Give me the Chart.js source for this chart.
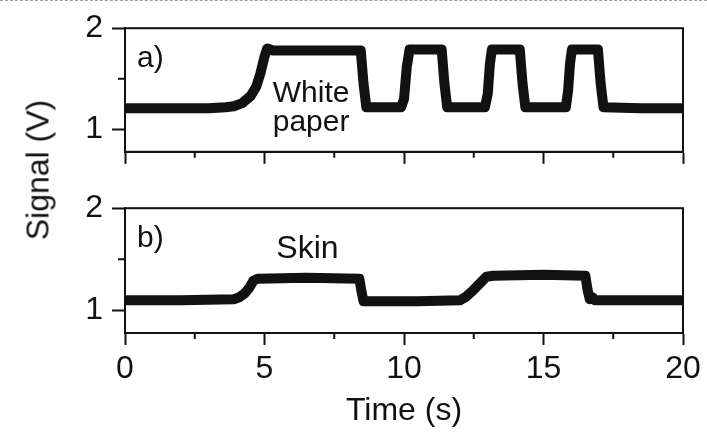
<!DOCTYPE html>
<html>
<head>
<meta charset="utf-8">
<script src="https://cdn.jsdelivr.net/npm/chart.js@4.4.1/dist/chart.umd.min.js"></script>
<style>
  html, body { margin: 0; padding: 0; background: #fff; }
  #wrap { position: relative; width: 707px; height: 433px; overflow: hidden; }
  #edge { position: absolute; left: 0; top: 0; width: 707px; border-top: 1px dashed #a0a0a0; }
  canvas { position: absolute; left: 0; }
  #ytitle {
    position: absolute; left: 38px; top: 170px;
    transform: translate(-50%, -50%) rotate(-90deg);
    font: 32px "Liberation Sans", Arial, sans-serif; color: #111; white-space: nowrap;
  }
</style>
</head>
<body>
<div id="wrap">
  <div id="edge"></div>
  <canvas id="chart-a" width="707" height="180" style="top:0px"></canvas>
  <canvas id="chart-b" width="707" height="253" style="top:180px"></canvas>
  <div id="ytitle">Signal (V)</div>
</div>
<script>
// ====== data ======
const xMajor = [0, 5, 10, 15, 20];
const xMinor = [2.5, 7.5, 12.5, 17.5];
const yMajor = [1, 2];
const yMinor = [1.5];

// a) white paper
const paperTime   = [0, 1.5, 3.0, 3.6, 3.9, 4.2, 4.5, 4.7, 4.85, 5.0, 5.1, 5.3, 6.5, 8.45, 8.55, 8.65, 9.9, 10.0, 10.1, 10.2, 11.35, 11.45, 11.55, 12.9, 13.0, 13.08, 13.15, 14.15, 14.25, 14.35, 15.8, 15.88, 15.95, 16.02, 16.95, 17.05, 17.15, 18.5, 20];
const paperSignal = [1.21, 1.21, 1.21, 1.22, 1.23, 1.26, 1.33, 1.42, 1.55, 1.72, 1.80, 1.78, 1.78, 1.78, 1.45, 1.22, 1.22, 1.30, 1.62, 1.79, 1.79, 1.45, 1.22, 1.22, 1.35, 1.65, 1.79, 1.79, 1.45, 1.22, 1.22, 1.38, 1.65, 1.79, 1.79, 1.45, 1.22, 1.21, 1.21];

// b) skin
const skinTime   = [0, 2, 3.9, 4.1, 4.3, 4.45, 4.6, 4.75, 6.5, 8.4, 8.48, 8.55, 10.5, 12.0, 12.2, 12.45, 12.7, 12.95, 13.2, 15.0, 16.5, 16.58, 16.66, 16.75, 16.85, 18.5, 20];
const skinSignal = [1.10, 1.10, 1.11, 1.13, 1.17, 1.22, 1.29, 1.31, 1.32, 1.31, 1.18, 1.09, 1.09, 1.10, 1.13, 1.19, 1.26, 1.33, 1.34, 1.35, 1.34, 1.20, 1.11, 1.13, 1.10, 1.10, 1.10];

const ink = '#111';
const fontFamily = '"Liberation Sans", Arial, sans-serif';
const font = { family: fontFamily, size: 32 };

// box around the plot + short minor ticks + panel notes
const framePlugin = {
  id: 'frame',
  afterDraw(chart, args, opts) {
    const { ctx, chartArea: a } = chart;
    const x = chart.scales.x, y = chart.scales.y;
    ctx.save();
    ctx.strokeStyle = ink;
    ctx.lineWidth = 2;
    ctx.strokeRect(a.left, a.top, a.right - a.left, a.bottom - a.top);
    ctx.beginPath();
    xMinor.forEach(v => {
      const px = x.getPixelForValue(v);
      ctx.moveTo(px, a.bottom); ctx.lineTo(px, a.bottom + 6);
    });
    yMinor.forEach(v => {
      const py = y.getPixelForValue(v);
      ctx.moveTo(a.left, py); ctx.lineTo(a.left - 7, py);
    });
    ctx.stroke();
    ctx.fillStyle = ink;
    ctx.textBaseline = 'alphabetic';
    (opts.notes || []).forEach(n => {
      ctx.font = n.size + 'px ' + fontFamily;
      ctx.textAlign = n.align;
      ctx.fillText(n.text, x.getPixelForValue(n.t), y.getPixelForValue(n.v));
    });
    ctx.restore();
  }
};

function makePanel(id, time, signal, cfg) {
  const ctx = document.getElementById(id);
  return new Chart(ctx, {
    type: 'line',
    data: {
      datasets: [{
        data: time.map((t, i) => ({ x: t, y: signal[i] })),
        borderColor: ink,
        borderWidth: 10,
        borderJoinStyle: 'round',
        borderCapStyle: 'round',
        pointRadius: 0,
        tension: 0
      }]
    },
    options: {
      responsive: false,
      animation: false,
      layout: { padding: { top: cfg.top, right: 24, bottom: cfg.bottom, left: 0 } },
      plugins: {
        legend: { display: false },
        tooltip: { enabled: false },
        frame: { notes: cfg.notes }
      },
      scales: {
        x: {
          type: 'linear',
          min: 0, max: 20,
          afterBuildTicks: s => { s.ticks = xMajor.map(v => ({ value: v })); },
          afterFit: s => { s.height = cfg.xHeight; },
          border: { display: true, color: ink, width: 2 },
          grid: { drawOnChartArea: false, drawTicks: true, tickLength: 12, tickWidth: 2, tickColor: ink, color: ink },
          ticks: {
            color: ink, font: font, padding: 5, autoSkip: false, maxRotation: 0,
            callback: v => cfg.labels ? String(v) : ''
          },
          title: { display: cfg.labels, text: 'Time (s)', color: ink, font: font, padding: { top: 2, bottom: 2 } }
        },
        y: {
          min: 0.78, max: 2,
          afterBuildTicks: s => { s.ticks = yMajor.map(v => ({ value: v })); },
          afterFit: s => { s.width = 125; },
          border: { display: true, color: ink, width: 2 },
          grid: { drawOnChartArea: false, drawTicks: true, tickLength: 13, tickWidth: 2, tickColor: ink, color: ink },
          ticks: { color: ink, font: font, padding: 9 }
        }
      }
    },
    plugins: [framePlugin]
  });
}

makePanel('chart-a', paperTime, paperSignal, {
  top: 24, bottom: 0, xHeight: 23, labels: false,
  notes: [
    { text: 'a)', t: 0.43, v: 1.62, size: 30, align: 'left' },
    { text: 'White', t: 6.67, v: 1.27, size: 30, align: 'center' },
    { text: 'paper', t: 6.67, v: 0.99, size: 30, align: 'center' }
  ]
});

makePanel('chart-b', skinTime, skinSignal, {
  top: 18, bottom: 1, xHeight: 99, labels: true,
  notes: [
    { text: 'b)', t: 0.43, v: 1.62, size: 30, align: 'left' },
    { text: 'Skin', t: 6.54, v: 1.51, size: 32, align: 'center' }
  ]
});
</script>
</body>
</html>
